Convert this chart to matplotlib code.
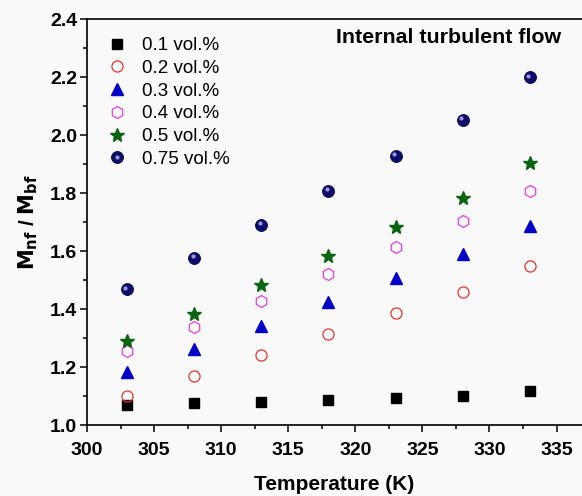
import matplotlib
matplotlib.use("Agg")
import matplotlib.pyplot as plt
from matplotlib.ticker import MultipleLocator, FormatStrFormatter
from matplotlib.transforms import offset_copy
from matplotlib.legend_handler import HandlerTuple

plt.rcParams['font.family'] = ['Liberation Sans', 'DejaVu Sans']

temperature = [303, 308, 313, 318, 323, 328, 333]
ratio_01 = [1.069, 1.075, 1.078, 1.086, 1.095, 1.100, 1.118]
ratio_02 = [1.100, 1.170, 1.241, 1.314, 1.388, 1.459, 1.548]
ratio_03 = [1.183, 1.261, 1.342, 1.423, 1.508, 1.591, 1.687]
ratio_04 = [1.256, 1.338, 1.428, 1.520, 1.613, 1.705, 1.809]
ratio_05 = [1.289, 1.382, 1.482, 1.582, 1.685, 1.784, 1.904]
ratio_075 = [1.468, 1.578, 1.692, 1.807, 1.929, 2.052, 2.200]
labels = ['0.1 vol.%', '0.2 vol.%', '0.3 vol.%', '0.4 vol.%', '0.5 vol.%', '0.75 vol.%']

bg = '#f9f9f9'
fig = plt.figure(figsize=(5.82, 4.96), dpi=100, facecolor=bg)
ax = fig.add_axes([0.1495, 0.1431, 0.8505, 0.8176], facecolor=bg)

handles = []
h, = ax.plot(temperature, ratio_01, ls='none', marker='s', ms=7.4, color='black')
handles.append(h)
h, = ax.plot(temperature, ratio_02, ls='none', marker='o', ms=8, mfc='none',
             mec='#e8352a', mew=0.9)
handles.append(h)
h, = ax.plot(temperature, ratio_03, ls='none', marker='^', ms=8, color='#0000c8')
handles.append(h)
h, = ax.plot(temperature, ratio_04, ls='none', marker='h', ms=8.6, mfc='none',
             mec='#e83ce8', mew=0.9)
handles.append(h)
h, = ax.plot(temperature, ratio_05, ls='none', marker='*', ms=10, color='#0a6410')
handles.append(h)

# shaded sphere: dark disc with a small highlight
ball, = ax.plot(temperature, ratio_075, ls='none', marker='o', ms=8.6,
                mfc='#0c0c6a', mec='#060640', mew=0.6)
hl_trans = offset_copy(ax.transData, fig=fig, x=-1.3, y=1.3, units='points')
hl, = ax.plot(temperature, ratio_075, ls='none', marker='o', ms=3.0,
              mfc='#9a9ad8', mec='none', transform=hl_trans)
handles.append((ball, hl))

leg = ax.legend(handles, labels, loc='upper left', bbox_to_anchor=(0.0, 1.003),
                frameon=False, fontsize=13.5, handlelength=1.2, handletextpad=0.75,
                labelspacing=0.3, borderaxespad=0.6,
                handler_map={tuple: HandlerTuple(ndivide=1, pad=0)})

ax.text(0.957, 0.955, 'Internal turbulent flow', transform=ax.transAxes,
        ha='right', va='center', fontsize=15.4, fontweight='bold')

ax.set_xlim(300, 336.9)
ax.set_ylim(1.0, 2.4)
ax.xaxis.set_major_locator(MultipleLocator(5))
ax.xaxis.set_minor_locator(MultipleLocator(2.5))
ax.yaxis.set_major_locator(MultipleLocator(0.2))
ax.yaxis.set_minor_locator(MultipleLocator(0.1))
ax.yaxis.set_major_formatter(FormatStrFormatter('%.1f'))

for s in ['left', 'bottom', 'top']:
    ax.spines[s].set_linewidth(1.2)
ax.spines['right'].set_visible(False)

ax.tick_params(which='both', direction='out', top=False, right=False, width=1.1,
               labelsize=14)
ax.tick_params(which='major', length=5)
ax.tick_params(which='minor', length=3)
ax.tick_params(axis='x', which='major', pad=7)
ax.tick_params(axis='y', which='major', pad=2)
for t in ax.get_xticklabels() + ax.get_yticklabels():
    t.set_fontweight('bold')

ax.set_xlabel('Temperature (K)', fontsize=15, fontweight='bold', labelpad=11.5)
ax.set_ylabel(r'$\mathbf{M_{nf}}$ / $\mathbf{M_{bf}}$', fontsize=15,
              fontweight='bold', labelpad=7.5)

fig.savefig('out.png', dpi=100, facecolor=bg)
